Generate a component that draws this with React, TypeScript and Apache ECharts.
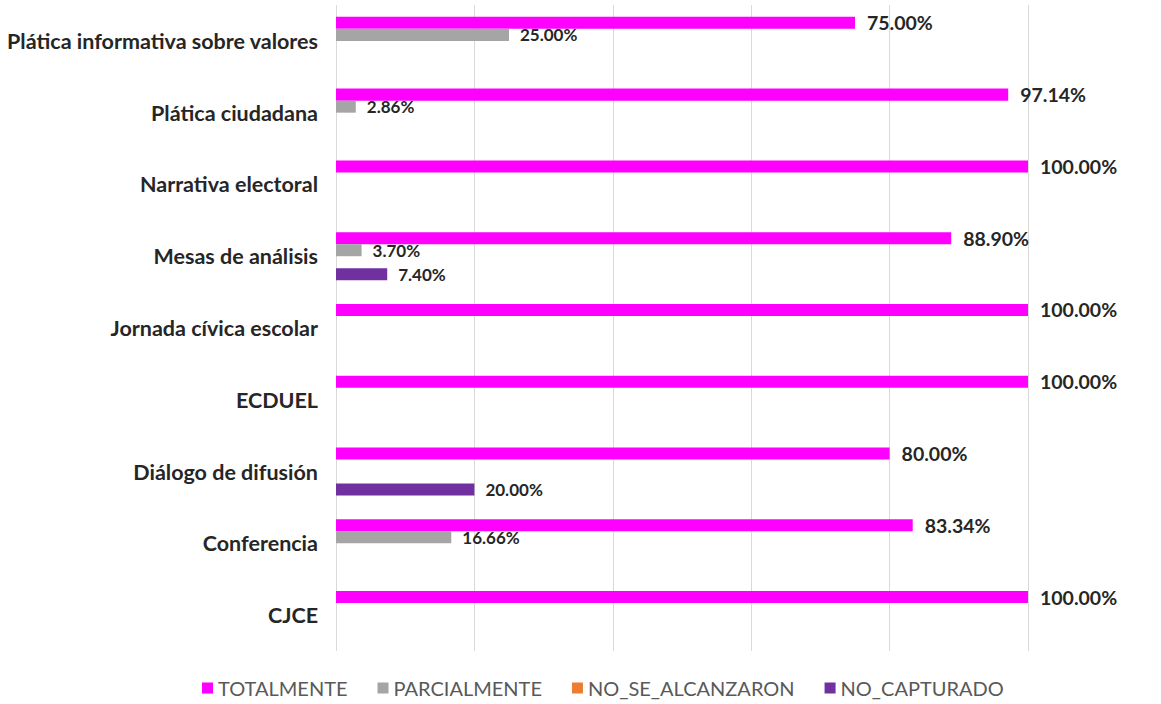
import React, { useEffect, useRef } from "react";
import * as echarts from "echarts";

const categories = [
  "Plática informativa sobre valores",
  "Plática ciudadana",
  "Narrativa electoral",
  "Mesas de análisis",
  "Jornada cívica escolar",
  "ECDUEL",
  "Diálogo de difusión",
  "Conferencia",
  "CJCE",
];
const totalmente = [75.0, 97.14, 100.0, 88.9, 100.0, 100.0, 80.0, 83.34, 100.0];
const parcialmente = [25.0, 2.86, null, 3.7, null, null, null, 16.66, null];
const noSeAlcanzaron = [null, null, null, null, null, null, null, null, null];
const noCapturado = [null, null, null, 7.4, null, null, 20.0, null, null];
const xTicks = [0, 20, 40, 60, 80, 100];

const FONT = "Lato";

export default function App() {
  const ref = useRef<HTMLDivElement>(null);
  useEffect(() => {
    if (!ref.current) return;
    const chart = echarts.init(ref.current, undefined, { renderer: "svg" });
    const fmt = (p: any) => Number(p.value).toFixed(2) + "%";
    const bigLabel = {
      show: true,
      position: "right",
      distance: 12,
      formatter: fmt,
      fontFamily: FONT,
      fontSize: 19.5,
      fontWeight: "bold",
      color: "#262626",
    };
    const smallLabel = {
      show: true,
      position: "right",
      distance: 11,
      formatter: fmt,
      fontFamily: FONT,
      fontSize: 17,
      fontWeight: "bold",
      color: "#262626",
    };
    chart.setOption({
      animation: false,
      grid: { left: 336, right: 133, top: 5, bottom: 53, containLabel: false },
      legend: {
        bottom: 1,
        left: 197,
        itemWidth: 11,
        itemHeight: 11,
        itemGap: 30,
        icon: "rect",
        textStyle: { fontFamily: FONT, fontSize: 20, color: "#595959" },
        data: ["TOTALMENTE", "PARCIALMENTE", "NO_SE_ALCANZARON", "NO_CAPTURADO"],
      },
      xAxis: {
        type: "value",
        min: xTicks[0],
        max: xTicks[xTicks.length - 1],
        interval: 20,
        axisLabel: { show: false },
        axisLine: { show: false },
        axisTick: { show: false },
        splitLine: { show: true, lineStyle: { color: "#D9D9D9", width: 1 } },
      },
      yAxis: {
        type: "category",
        inverse: true,
        data: categories,
        axisLine: { show: false },
        axisTick: { show: false },
        axisLabel: {
          margin: 18,
          fontFamily: FONT,
          fontSize: 21.5,
          fontWeight: "bold",
          color: "#262626",
        },
      },
      series: [
        {
          name: "TOTALMENTE",
          type: "bar",
          data: totalmente,
          itemStyle: { color: "#FF00FF" },
          barGap: "0%",
          barCategoryGap: "33%",
          label: bigLabel,
        },
        {
          name: "PARCIALMENTE",
          type: "bar",
          data: parcialmente,
          itemStyle: { color: "#A5A5A5" },
          label: smallLabel,
        },
        {
          name: "NO_SE_ALCANZARON",
          type: "bar",
          data: noSeAlcanzaron,
          itemStyle: { color: "#ED7D31" },
          label: smallLabel,
        },
        {
          name: "NO_CAPTURADO",
          type: "bar",
          data: noCapturado,
          itemStyle: { color: "#7030A0" },
          label: smallLabel,
        },
      ],
    });
    return () => chart.dispose();
  }, []);
  return (
    <div
      ref={ref}
      style={{ position: "absolute", left: 0, top: 0, width: 1161, height: 704 }}
    />
  );
}
